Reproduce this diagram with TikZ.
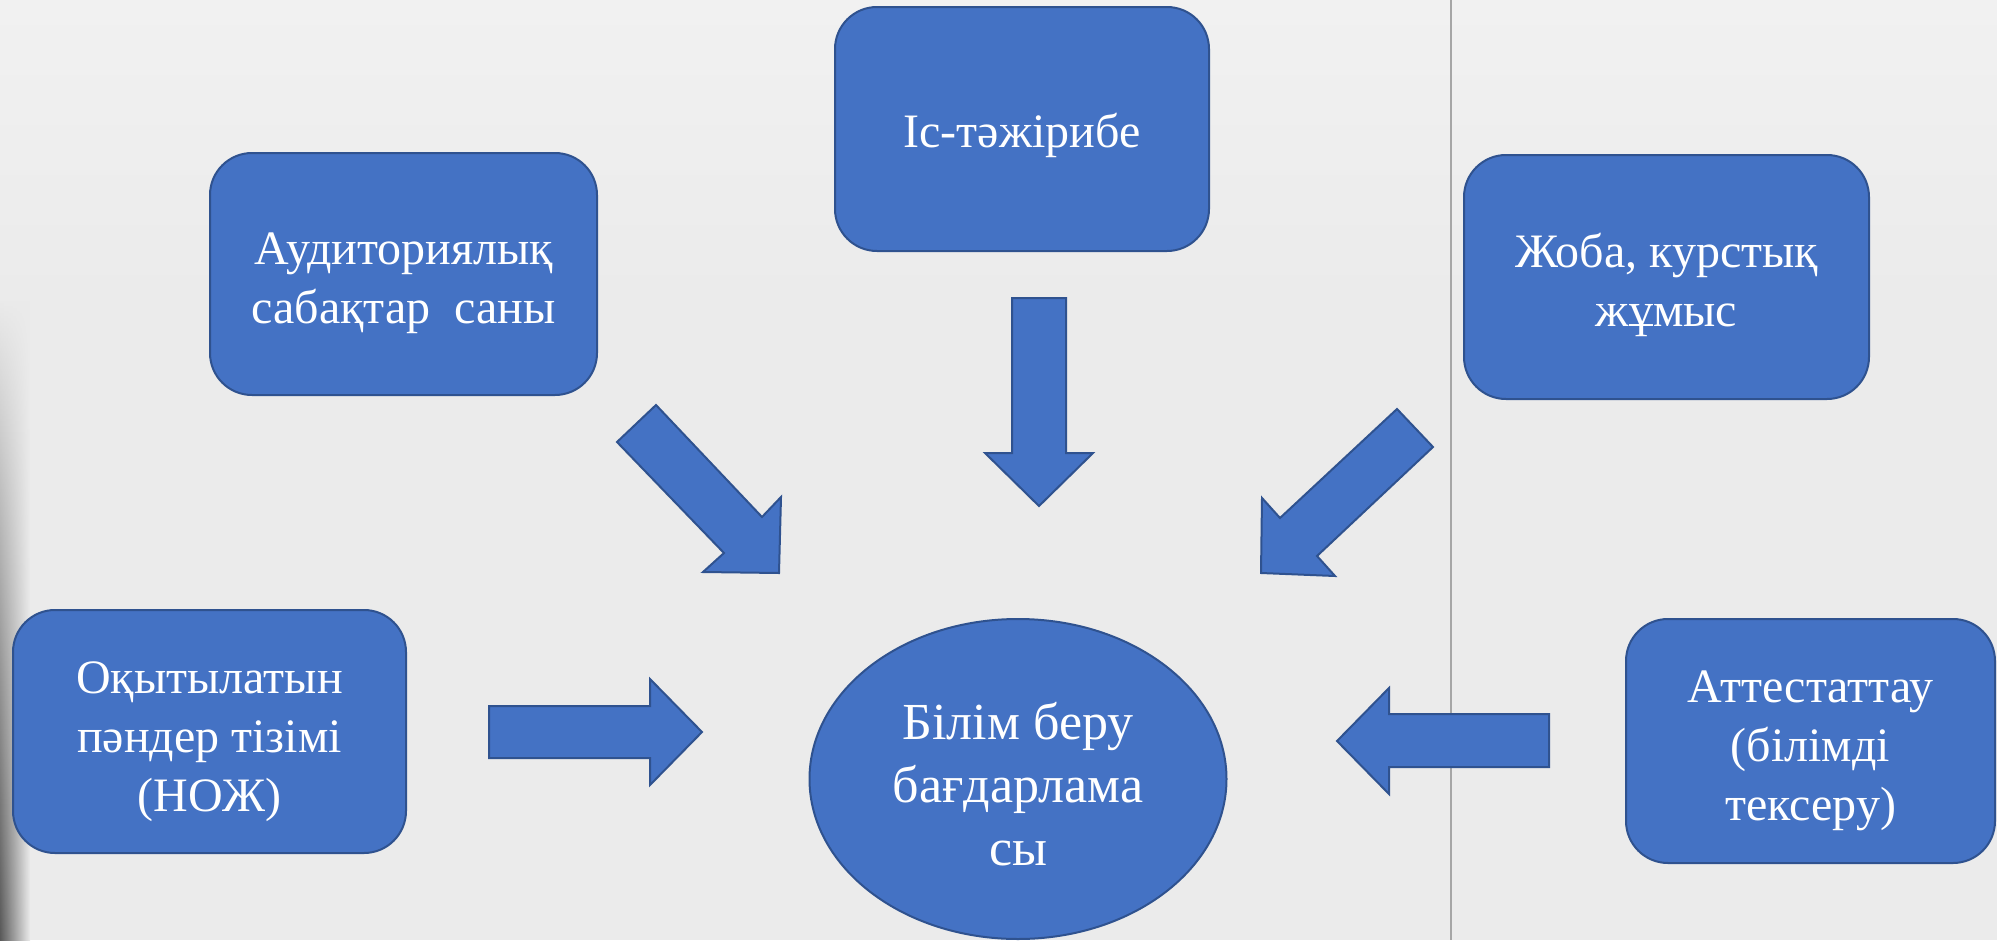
\documentclass[tikz,border=0pt]{standalone}
\usepackage{fontspec}
\setmainfont{Liberation Serif}
\usetikzlibrary{shapes.geometric,fadings}
\definecolor{boxblue}{HTML}{4472C4}
\definecolor{boxedge}{HTML}{2F528F}
\definecolor{bgwall}{HTML}{EBEBEB}
\definecolor{bgtop}{HTML}{F1F1F1}
\begin{document}
\begin{tikzpicture}[x=1pt,y=-1pt,
  box/.style={draw=boxedge, line width=2pt, fill=boxblue, rounded corners=42pt, inner sep=0pt},
  txt/.style={text=white, align=center, inner sep=0pt, font=\fontsize{48}{59}\selectfont},
  bigtxt/.style={text=white, align=center, inner sep=0pt, font=\fontsize{52}{63}\selectfont},
  blockarrow/.style={draw=boxedge, line width=2pt, fill=boxblue, line join=miter}]
\fill[bgwall] (0,0) rectangle (1997,940);
\useasboundingbox (0,0) rectangle (1997,940);
% slightly lighter top of the wall
\shade[top color=bgtop, bottom color=bgwall] (0,0) rectangle (1997,300);
% left dark strip of the photo
\shade[left color=black!65, right color=bgwall, path fading=north] (0,300) rectangle (30,940);
% thin vertical line
\draw[line width=1.2pt, color=black!35] (1451,0) -- (1451,940);

\node[box, minimum width=387pt, minimum height=242pt] (aud) at (403.5,274) {};
\node[box, minimum width=374pt, minimum height=244pt] (ist) at (1022,129) {};
\node[box, minimum width=405pt, minimum height=244pt] (joba) at (1666.5,277) {};
\node[box, minimum width=393pt, minimum height=243pt] (nozh) at (209.5,731.5) {};
\node[box, minimum width=369pt, minimum height=244pt] (att) at (1810.5,741) {};
\node[ellipse, draw=boxedge, fill=boxblue, line width=2pt, minimum width=417pt, minimum height=320pt,
  inner sep=0pt] (prog) at (1018,779) {};

\node[txt] (aud-t) at ([yshift=-9pt]aud.center) {Аудиториялық\\сабақтар\ \ саны};
\node[txt] (ist-t) at ([yshift=-6pt]ist.center) {Іс-тәжірибе};
\node[txt] (joba-t) at ([yshift=-8pt]joba.center) {Жоба, курстық\\жұмыс};
\node[txt] (nozh-t) at ([yshift=-10pt]nozh.center) {Оқытылатын\\пәндер тізімі\\(НОЖ)};
\node[txt] (att-t) at ([yshift=-10pt]att.center) {Аттестаттау\\(білімді\\тексеру)};
\node[bigtxt] (prog-t) at ([yshift=-5pt]prog.center) {Білім беру\\бағдарлама\\сы};

% block arrows
\draw[blockarrow] (617,442) -- (656,405) -- (762,517) -- (781,497) -- (779,573) -- (703,572) -- (724,553) -- cycle;
\draw[blockarrow] (1012,298) -- (1066,298) -- (1066,453) -- (1093,453) -- (1039,506) -- (985,453) -- (1012,453) -- cycle;
\draw[blockarrow] (1397,409) -- (1433,447) -- (1317,556) -- (1335,576) -- (1261,573) -- (1262,498) -- (1280,518) -- cycle;
\draw[blockarrow] (489,706) -- (650,706) -- (650,679) -- (702,732) -- (650,785) -- (650,758) -- (489,758) -- cycle;
\draw[blockarrow] (1549,714) -- (1389,714) -- (1389,688) -- (1337,741) -- (1389,794) -- (1389,767) -- (1549,767) -- cycle;
\end{tikzpicture}
\end{document}
